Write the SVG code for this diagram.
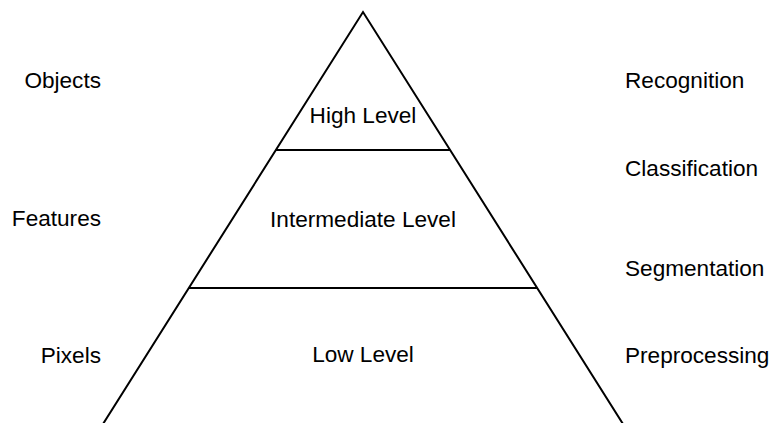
<svg xmlns="http://www.w3.org/2000/svg" width="770" height="423" viewBox="0 0 770 423">
<style>
.ln{fill:none;stroke:#000;stroke-width:2;stroke-linecap:butt;stroke-linejoin:miter}
text{font-family:"Liberation Sans",Arial,sans-serif;font-size:22.6px;fill:#000}
.c{text-anchor:middle}
.r{text-anchor:end}
.l{text-anchor:start}
</style>
<rect width="770" height="423" fill="#fff"/>
<g id="pyramid">
<polyline class="ln" points="103,424 363,12 623,424"/>
<line class="ln" x1="276" y1="150" x2="450" y2="150"/>
<line class="ln" x1="189" y1="288" x2="537" y2="288"/>
</g>
<g id="high-level"><text class="c" x="363" y="123">High Level</text></g>
<g id="intermediate-level"><text class="c" x="363" y="227">Intermediate Level</text></g>
<g id="low-level"><text class="c" x="363" y="362">Low Level</text></g>
<g id="left-labels">
<text class="r" x="101" y="88">Objects</text>
<text class="r" x="101" y="226">Features</text>
<text class="r" x="101" y="363">Pixels</text>
</g>
<g id="right-labels">
<text class="l" x="625" y="88">Recognition</text>
<text class="l" x="625" y="176">Classification</text>
<text class="l" x="625" y="276">Segmentation</text>
<text class="l" x="625" y="363">Preprocessing</text>
</g>
<g id="connectors"></g>
</svg>
